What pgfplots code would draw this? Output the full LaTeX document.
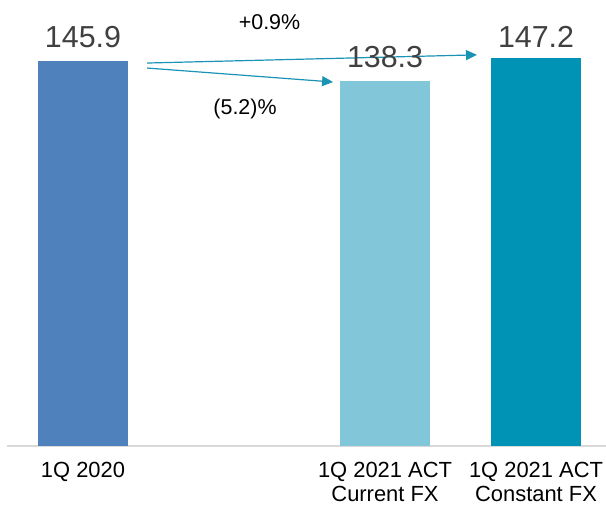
\documentclass[border=0pt]{standalone}
\usepackage{pgfplots}
\pgfplotsset{compat=1.18}
\usepackage{pgfplotstable}
\usepackage{fontspec}
\setmainfont{Liberation Sans}
\usetikzlibrary{arrows.meta}

\definecolor{barA}{HTML}{4F81BD}
\definecolor{barB}{HTML}{82C7D9}
\definecolor{barC}{HTML}{0093B5}
\definecolor{arrowc}{HTML}{1A93B5}
\definecolor{valc}{HTML}{404040}
\definecolor{axisc}{HTML}{D9D9D9}

% position, value, gap between bar top and label baseline (bp)
\pgfplotstableread{
x y dy
0 145.9 14
}\tblA
\pgfplotstableread{
x y dy
2 138.3 14
}\tblB
\pgfplotstableread{
x y dy
3 147.2 10
}\tblC

\begin{document}
\begin{tikzpicture}
% data point (0,0) sits at the origin
\useasboundingbox (-83bp,-63bp) rectangle (523bp,446bp);
\begin{axis}[
  at={(0,0)}, anchor=origin,
  scale only axis,
  width=598bp, height=446bp,
  xmin=-0.5, xmax=3.46,
  ymin=0, ymax=169.1,
  axis x line*=bottom,
  hide y axis,
  x axis line style={axisc, line width=1.2bp, -},
  xtick={0,2,3},
  xticklabels={1Q 2020, 1Q 2021 ACT\\Current FX, 1Q 2021 ACT\\Constant FX},
  major tick length=0pt,
  xticklabel style={align=center, inner sep=0pt, font=\fontsize{22}{24.5}\selectfont, text=black, yshift=-16bp},
  ybar, bar width=90bp, bar shift=0pt,
  clip=false,
  nodes near coords,
  point meta=explicit symbolic,
  visualization depends on={\thisrow{dy}\as\dy},
  every node near coord/.append style={anchor=base, inner sep=0pt, yshift=\dy bp, font=\fontsize{30.5}{36}\selectfont, text=valc},
]
\addplot[fill=barA, draw=none] table[x=x, y=y, meta=y] {\tblA};
\addplot[fill=barB, draw=none] table[x=x, y=y, meta=y] {\tblB};
\addplot[fill=barC, draw=none] table[x=x, y=y, meta=y] {\tblC};

% change arrows
\draw[arrowc, line width=1.2bp, -{Triangle[length=11bp,width=10bp]}]
  (axis cs:0.424,145.2) -- (axis cs:2.609,148.3);
\draw[arrowc, line width=1.2bp, -{Triangle[length=11bp,width=10bp]}]
  (axis cs:0.424,143.3) -- (axis cs:1.656,138.0);

\node[anchor=base, font=\fontsize{21.5}{25}\selectfont] at (axis cs:1.235,158.0) {+0.9\%};
\node[anchor=base, font=\fontsize{21.5}{25}\selectfont] at (axis cs:1.073,125.5) {(5.2)\%};
\end{axis}
\end{tikzpicture}
\end{document}
